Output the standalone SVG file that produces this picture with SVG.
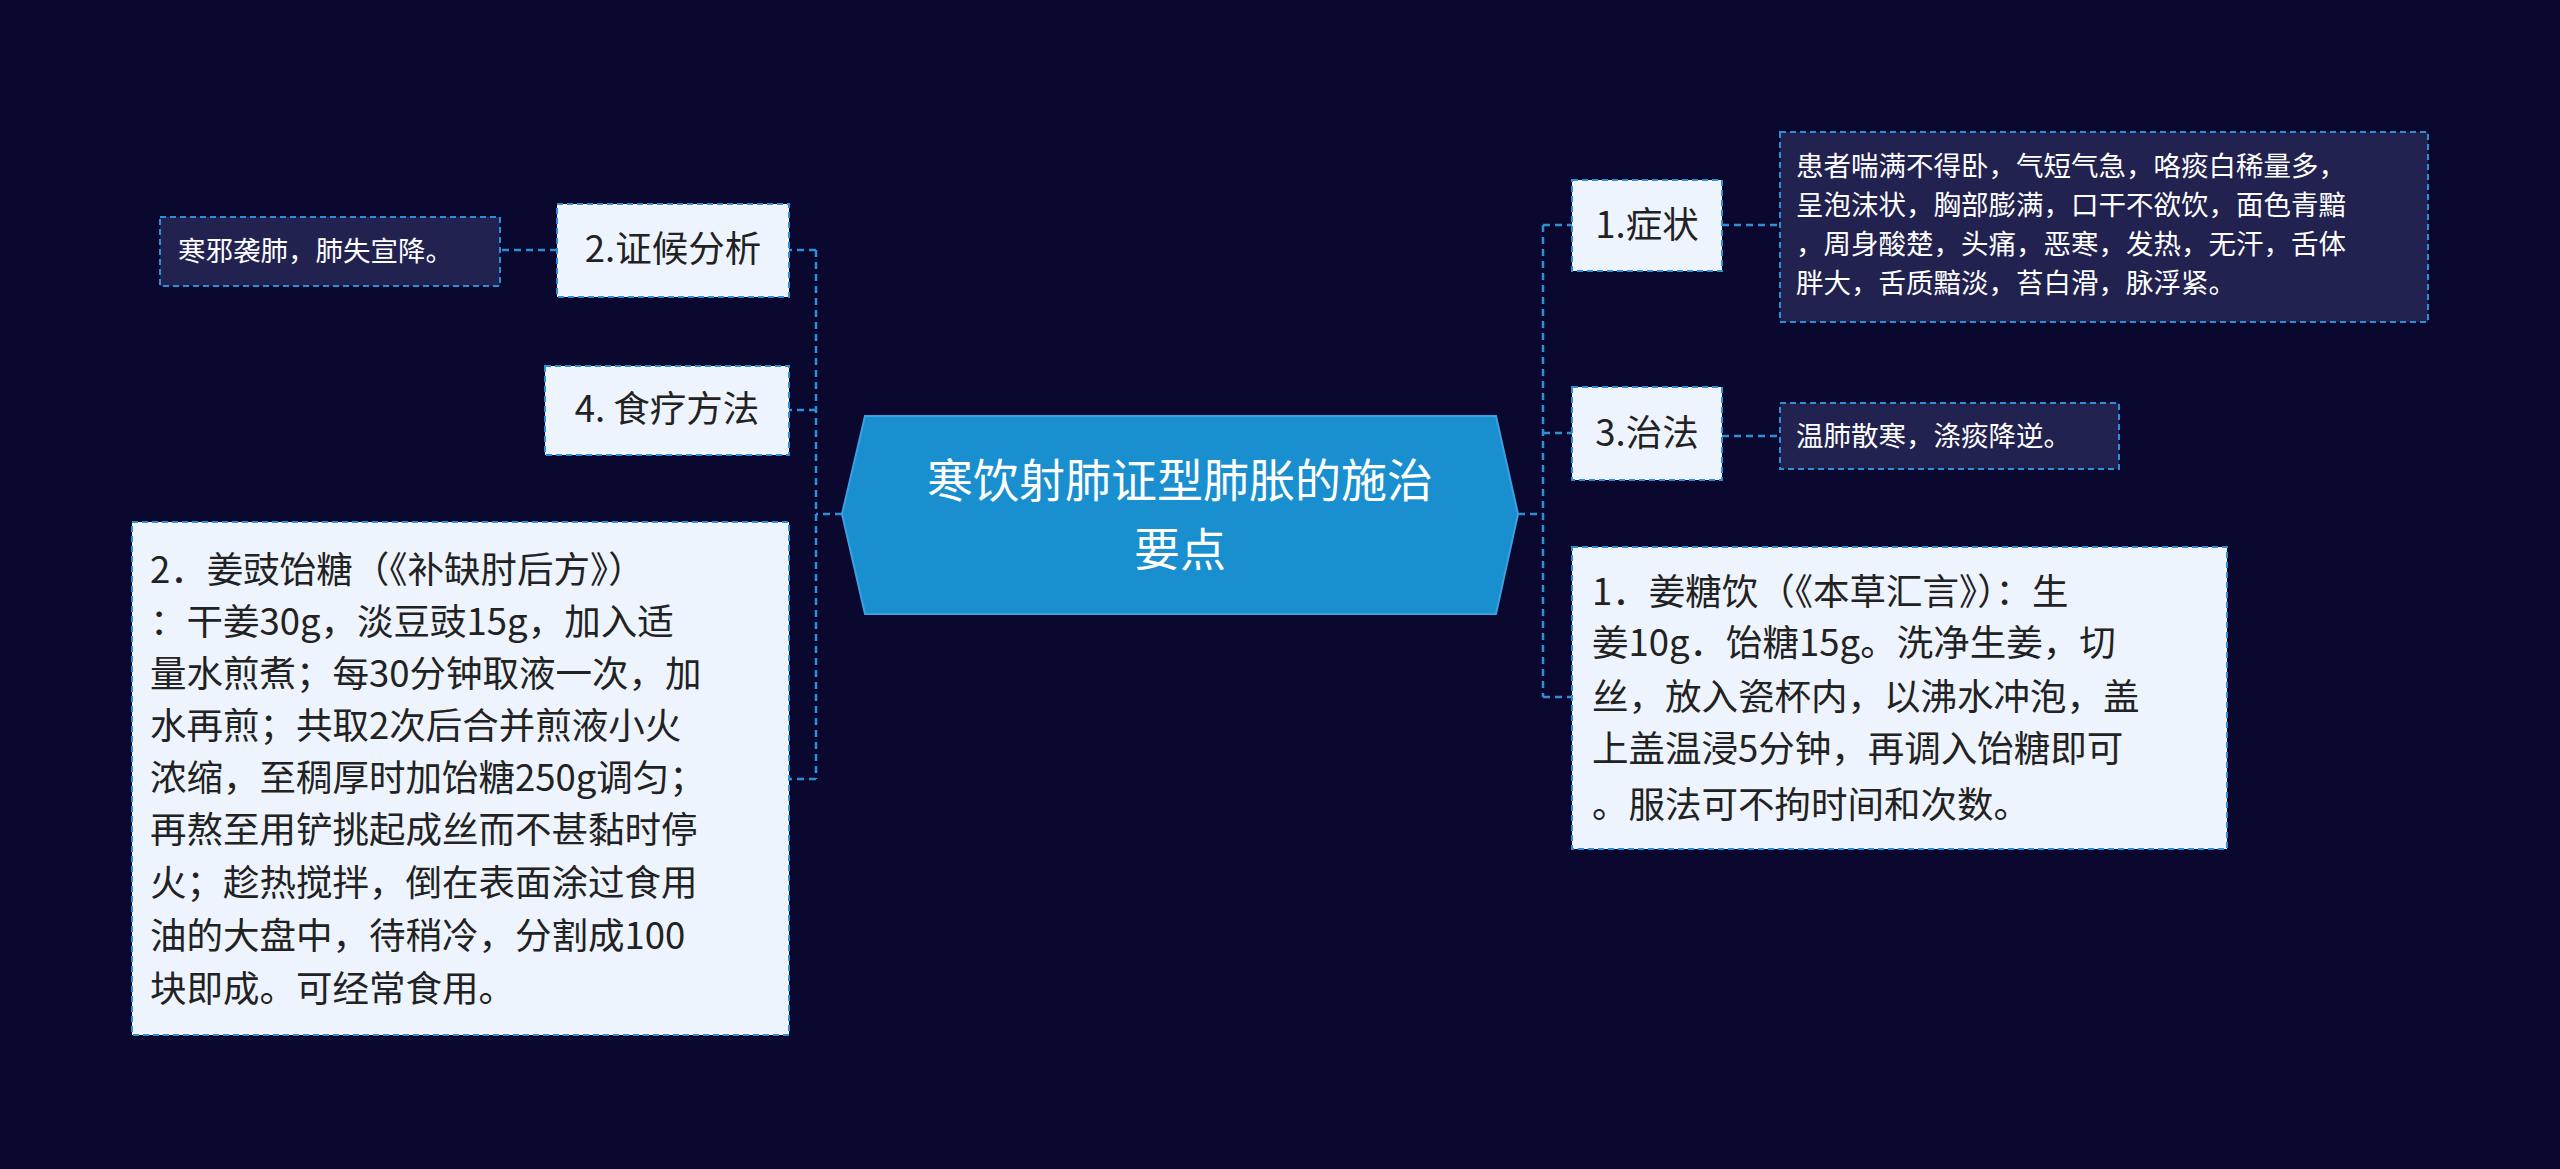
<svg xmlns="http://www.w3.org/2000/svg" width="2560" height="1169" viewBox="0 0 2560 1169">
<style>
text{font-family:"Noto Sans CJK SC","Liberation Sans",sans-serif}
.lb{fill:#eef4fd;stroke:#2f8fd4;stroke-width:2;stroke-dasharray:6,4}
.db{fill:#222250;stroke:#2f8fd4;stroke-width:2;stroke-dasharray:6,4}
.t{font-size:36.5px;fill:#222}
.w{font-size:27.5px;fill:#fff}
.c{fill:none;stroke:#2f8fd4;stroke-width:2.5;stroke-dasharray:7,5}
</style>
<rect width="2560" height="1169" fill="#0b0830"/>
<g id="connectors">
<path class="c" d="M1518 514H1543M1543 225V697M1543 225H1572M1543 433H1572M1543 697H1572M1722 225H1780M1722 436H1780"/>
<path class="c" d="M842 514H816M816 250V779M816 250H789M816 410H789M816 779H789M557 250H500"/>
</g>
<g id="center">
<polygon points="842,514 865,416 1496,416 1518,514 1496,614 865,614" fill="#1a8fd0" stroke="#3aa0e0" stroke-width="2"/>
<text x="1180" y="497" font-size="46" fill="#fff" text-anchor="middle">寒饮射肺证型肺胀的施治</text>
<text x="1180" y="566" font-size="46" fill="#fff" text-anchor="middle">要点</text>
</g>
<g id="n1"><rect class="lb" x="1572" y="180" width="150" height="91"/><text class="t" x="1647" y="238" text-anchor="middle">1.症状</text></g>
<g id="n1d"><rect class="db" x="1780" y="132" width="648" height="190"/>
<text class="w" x="1796" y="176">患者喘满不得卧，气短气急，咯痰白稀量多，</text>
<text class="w" x="1796" y="215">呈泡沫状，胸部膨满，口干不欲饮，面色青黯</text>
<text class="w" x="1796" y="254">，周身酸楚，头痛，恶寒，发热，无汗，舌体</text>
<text class="w" x="1796" y="293">胖大，舌质黯淡，苔白滑，脉浮紧。</text></g>
<g id="n3"><rect class="lb" x="1572" y="387" width="150" height="93"/><text class="t" x="1647" y="446" text-anchor="middle">3.治法</text></g>
<g id="n3d"><rect class="db" x="1780" y="403" width="339" height="66"/><text class="w" x="1796" y="446">温肺散寒，涤痰降逆。</text></g>
<g id="n5"><rect class="lb" x="1572" y="547" width="655" height="302"/>
<text class="t" x="1592" y="605">1．姜糖饮（《本草汇言》）：生</text>
<text class="t" x="1592" y="656">姜10g．饴糖15g。洗净生姜，切</text>
<text class="t" x="1592" y="710">丝，放入瓷杯内，以沸水冲泡，盖</text>
<text class="t" x="1592" y="762">上盖温浸5分钟，再调入饴糖即可</text>
<text class="t" x="1592" y="818">。服法可不拘时间和次数。</text></g>
<g id="n2"><rect class="lb" x="557" y="204" width="232" height="93"/><text class="t" x="673" y="262" text-anchor="middle">2.证候分析</text></g>
<g id="n2d"><rect class="db" x="160" y="217" width="340" height="69"/><text class="w" x="178" y="261">寒邪袭肺，肺失宣降。</text></g>
<g id="n4"><rect class="lb" x="545" y="366" width="244" height="89"/><text class="t" x="667" y="422" text-anchor="middle">4. 食疗方法</text></g>
<g id="n6"><rect class="lb" x="132" y="522" width="657" height="513"/>
<text class="t" x="150" y="583">2．姜豉饴糖（《补缺肘后方》）</text>
<text class="t" x="150" y="635">：干姜30g，淡豆豉15g，加入适</text>
<text class="t" x="150" y="687">量水煎煮；每30分钟取液一次，加</text>
<text class="t" x="150" y="739">水再煎；共取2次后合并煎液小火</text>
<text class="t" x="150" y="791">浓缩，至稠厚时加饴糖250g调匀；</text>
<text class="t" x="150" y="843">再熬至用铲挑起成丝而不甚黏时停</text>
<text class="t" x="150" y="896">火；趁热搅拌，倒在表面涂过食用</text>
<text class="t" x="150" y="949">油的大盘中，待稍冷，分割成100</text>
<text class="t" x="150" y="1002">块即成。可经常食用。</text></g>
</svg>
